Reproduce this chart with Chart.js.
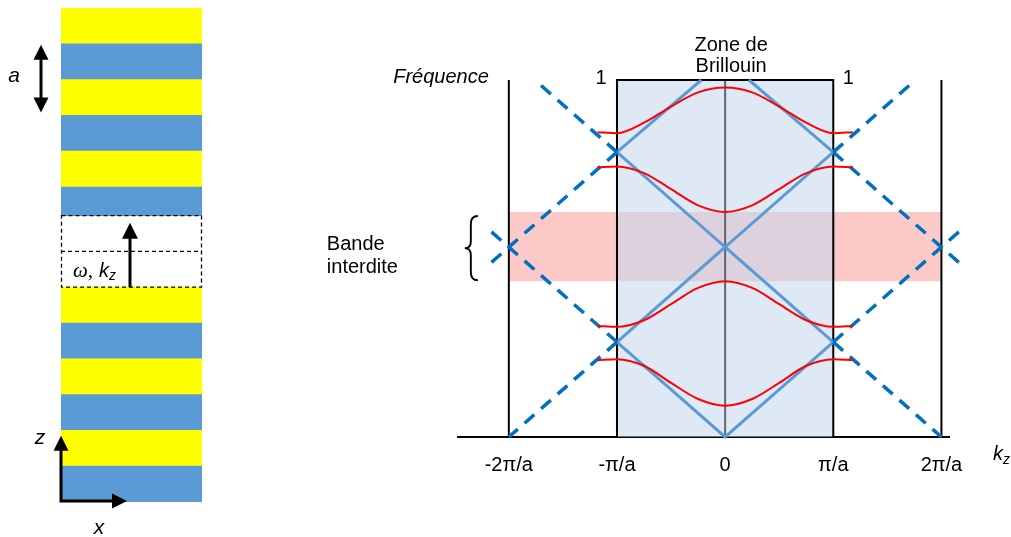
<!DOCTYPE html>
<html><head><meta charset="utf-8">
<script src="https://cdn.jsdelivr.net/npm/chart.js@4.4.0/dist/chart.umd.min.js"></script>
<style>
html,body{margin:0;padding:0;background:#fff;width:1011px;height:537px;overflow:hidden;}
canvas{position:absolute;left:0;top:0;}
</style></head>
<body>
<canvas id="left" width="1011" height="537"></canvas>
<canvas id="right" width="1011" height="537"></canvas>
<script>
// ================= DATA =================
// Left panel: multilayer stack, listed bottom -> top (thickness in layer units)
const layerMaterials = ['B','Y','B','Y','B','Y','gap','B','Y','B','Y','B','Y'];
const layerThickness = [1, 1, 1, 1, 1, 1, 2, 0.8, 1, 1, 1, 1, 1];

// Right panel: band diagram (k in units of pi/a, frequency in units of c*pi/a)
const kTicks = [-2, -1, 0, 1, 2];
const kTickLabels = ['-2π/a', '-π/a', '0', 'π/a', '2π/a'];
const kRange = [-2.47, 2.07];
const freqMax = 3.76;
const gapBand = [1.64, 2.37];          // bande interdite
const zoneEdges = [-1, 1];             // zone de Brillouin
const outerLines = [-2, 2];

// folded light line (solid, inside the zone)
const lightSolid = [
  [[-1, 1], [0, 0], [1, 1]],
  [[-1, 1], [0, 2], [1, 1]],
  [[-1, 3], [0, 2], [1, 3]],
  [[-1, 3], [-0.22, 3.76]],
  [[1, 3], [0.22, 3.76]]
];
// unfolded light lines (dashed, outside the zone)
const lightDashed = [
  [[-1, 1], [-2, 0]],
  [[-1, 1], [-2.18, 2.18]],
  [[-1, 3], [-2.18, 1.82]],
  [[-1, 3], [-1.72, 3.72]],
  [[1, 1], [2, 0]],
  [[1, 1], [2.18, 2.18]],
  [[1, 3], [2.18, 1.82]],
  [[1, 3], [1.72, 3.72]]
];
// photonic bands (red)
const kBand = [-1.18, -1, -0.75, -0.5, -0.25, 0, 0.25, 0.5, 0.75, 1, 1.18];
const band4 = [3.21, 3.20, 3.31, 3.48, 3.63, 3.68, 3.63, 3.48, 3.31, 3.20, 3.21];
const band3 = [2.84, 2.85, 2.78, 2.61, 2.44, 2.37, 2.44, 2.61, 2.78, 2.85, 2.84];
const band2 = [1.17, 1.16, 1.23, 1.40, 1.57, 1.64, 1.57, 1.40, 1.23, 1.16, 1.17];
const band1 = [0.81, 0.82, 0.75, 0.57, 0.40, 0.33, 0.40, 0.57, 0.75, 0.82, 0.81];

// ================= STYLE =================
const FONT = '"Liberation Sans", Arial, sans-serif';
Chart.defaults.font.family = FONT;
Chart.defaults.color = '#000';

function arrowHead(ctx, x, y, dir, len, wid) {
  ctx.beginPath();
  if (dir === 'up') { ctx.moveTo(x, y); ctx.lineTo(x - wid/2, y + len); ctx.lineTo(x + wid/2, y + len); }
  else if (dir === 'down') { ctx.moveTo(x, y); ctx.lineTo(x - wid/2, y - len); ctx.lineTo(x + wid/2, y - len); }
  else { ctx.moveTo(x, y); ctx.lineTo(x - len, y - wid/2); ctx.lineTo(x - len, y + wid/2); }
  ctx.closePath(); ctx.fill();
}

// ================= LEFT CHART =================
const layerBounds = [0];
layerThickness.forEach(t => layerBounds.push(layerBounds[layerBounds.length - 1] + t));
const stackTotal = layerBounds[layerBounds.length - 1];
const gapIndex = layerMaterials.indexOf('gap');

const leftDatasets = layerMaterials.map((m, i) => ({
  data: [[layerBounds[i], layerBounds[i + 1]]],
  backgroundColor: m === 'Y' ? '#FFFF00' : (m === 'B' ? '#5B9BD5' : 'rgba(255,255,255,0)'),
  borderWidth: 0, grouped: false, barPercentage: 1, categoryPercentage: 1
}));

const leftDecor = {
  id: 'leftDecor',
  afterDatasetsDraw(chart) {
    const ctx = chart.ctx, ys = chart.scales.y, a = chart.chartArea;
    ctx.save();
    // dashed cell
    const g0 = ys.getPixelForValue(layerBounds[gapIndex]);
    const g1 = ys.getPixelForValue(layerBounds[gapIndex + 1]);
    const gm = (g0 + g1) / 2;
    ctx.strokeStyle = '#000'; ctx.lineWidth = 1.3; ctx.setLineDash([4, 3]);
    ctx.strokeRect(a.left + 0.5, g1, a.right - a.left - 1, g0 - g1);
    ctx.beginPath(); ctx.moveTo(a.left, gm); ctx.lineTo(a.right, gm); ctx.stroke();
    ctx.setLineDash([]);
    // wave vector arrow
    const cx = (a.left + a.right) / 2 - 1.5;
    const tip = ys.getPixelForValue(layerBounds[gapIndex] + 1.8);
    ctx.fillStyle = '#000'; ctx.lineWidth = 3;
    ctx.beginPath(); ctx.moveTo(cx, g0); ctx.lineTo(cx, tip + 14); ctx.stroke();
    arrowHead(ctx, cx, tip, 'up', 16, 16);
    // omega, kz
    ctx.textBaseline = 'middle'; ctx.textAlign = 'left';
    ctx.font = 'italic 21px "Liberation Serif", serif';
    const ly = (g0 + gm) / 2 + 2;
    ctx.fillText('ω,', a.left + 12, ly);
    ctx.font = 'italic 20px ' + FONT;
    ctx.fillText('k', a.left + 38, ly);
    ctx.font = 'italic 14px ' + FONT;
    ctx.fillText('z', a.left + 48, ly + 5);
    // period arrow "a"
    const p0 = ys.getPixelForValue(layerBounds[10]);
    const p1 = ys.getPixelForValue(layerBounds[12]);
    const ax = a.left - 20;
    ctx.beginPath(); ctx.moveTo(ax, p1 + 12); ctx.lineTo(ax, p0 - 12); ctx.stroke();
    arrowHead(ctx, ax, p1 + 1, 'up', 15, 15);
    arrowHead(ctx, ax, p0 - 3, 'down', 15, 15);
    ctx.font = 'italic 21px ' + FONT; ctx.textAlign = 'center';
    ctx.fillText('a', a.left - 47, (p0 + p1) / 2 - 3);
    // x/z axes
    const ox = a.left, oy = ys.getPixelForValue(0) - 1;
    const zt = ys.getPixelForValue(1.85);
    ctx.beginPath(); ctx.moveTo(ox, oy + 1.5); ctx.lineTo(ox, zt + 12);
    ctx.moveTo(ox - 1.5, oy); ctx.lineTo(ox + 54, oy); ctx.stroke();
    arrowHead(ctx, ox, zt, 'up', 15, 15);
    arrowHead(ctx, ox + 66, oy, 'right', 15, 15);
    ctx.font = 'italic 21px ' + FONT;
    ctx.fillText('z', ox - 21, zt + 2);
    ctx.fillText('x', ox + 38, oy + 27);
    ctx.restore();
  }
};

new Chart(document.getElementById('left'), {
  type: 'bar',
  data: { labels: ['stack'], datasets: leftDatasets },
  options: {
    responsive: false, animation: false, events: [],
    indexAxis: 'x',
    layout: { padding: { left: 61, right: 809, top: 8, bottom: 35 } },
    scales: {
      x: { display: false },
      y: { display: false, min: 0, max: stackTotal, stacked: false }
    },
    plugins: { legend: { display: false }, tooltip: { enabled: false } }
  },
  plugins: [leftDecor]
});

// ================= RIGHT CHART =================
const pts = arr => arr.map(p => ({ x: p[0], y: p[1] }));
const lineDs = (arr, style, order) => Object.assign({
  data: pts(arr), showLine: true, pointRadius: 0, pointHoverRadius: 0,
  fill: false, clip: false, tension: 0, order
}, style);

const rightDatasets = [];
// bande interdite
rightDatasets.push(lineDs([[outerLines[0], gapBand[1]], [outerLines[1], gapBand[1]]],
  { borderWidth: 0, borderColor: 'rgba(0,0,0,0)', backgroundColor: 'rgb(252,201,201)', fill: { value: gapBand[0] } }, 100));
// zone de Brillouin
rightDatasets.push(lineDs([[zoneEdges[0], freqMax], [zoneEdges[1], freqMax]],
  { borderWidth: 0, borderColor: 'rgba(0,0,0,0)', backgroundColor: 'rgba(195,215,237,0.55)', fill: 'origin' }, 90));
// outer vertical lines
outerLines.forEach(k => rightDatasets.push(lineDs([[k, 0], [k, freqMax]], { borderColor: '#000', borderWidth: 2 }, 80)));
// zone outline
rightDatasets.push(lineDs([[zoneEdges[0], 0], [zoneEdges[0], freqMax], [zoneEdges[1], freqMax], [zoneEdges[1], 0]],
  { borderColor: '#000', borderWidth: 2 }, 80));
// centre line
rightDatasets.push(lineDs([[0, 0], [0, freqMax]], { borderColor: '#5f6670', borderWidth: 2 }, 80));
// folded light line
lightSolid.forEach(s => rightDatasets.push(lineDs(s, { borderColor: '#5B9BD5', borderWidth: 3 }, 70)));
// unfolded light line
lightDashed.forEach(s => rightDatasets.push(lineDs(s, { borderColor: '#0070C0', borderWidth: 3.5, borderDash: [13, 9], borderCapStyle: 'butt' }, 60)));
// bands
[band1, band2, band3, band4].forEach(b => rightDatasets.push(lineDs(kBand.map((k, i) => [k, b[i]]),
  { borderColor: '#FF0000', borderWidth: 2, cubicInterpolationMode: 'monotone' }, 50)));

const rightDecor = {
  id: 'rightDecor',
  afterDraw(chart) {
    const ctx = chart.ctx, xs = chart.scales.x, ys = chart.scales.y, a = chart.chartArea;
    ctx.save();
    ctx.fillStyle = '#000'; ctx.textBaseline = 'middle';
    ctx.font = 'italic 20px ' + FONT; ctx.textAlign = 'right';
    ctx.fillText('Fréquence', xs.getPixelForValue(outerLines[0]) - 20, a.top - 3);
    ctx.font = '20px ' + FONT; ctx.textAlign = 'center';
    ctx.fillText('1', xs.getPixelForValue(zoneEdges[0]) - 16, a.top - 2);
    ctx.fillText('1', xs.getPixelForValue(zoneEdges[1]) + 15, a.top - 2);
    const zc = xs.getPixelForValue(0) + 6;
    ctx.fillText('Zone de', zc, a.top - 35);
    ctx.fillText('Brillouin', zc, a.top - 14);
    const gTop = ys.getPixelForValue(gapBand[1]), gBot = ys.getPixelForValue(gapBand[0]);
    const gMid = (gTop + gBot) / 2;
    ctx.textAlign = 'left';
    ctx.fillText('Bande', xs.getPixelForValue(outerLines[0]) - 182, gMid - 2);
    ctx.fillText('interdite', xs.getPixelForValue(outerLines[0]) - 182, gMid + 21);
    // k_z
    ctx.font = 'italic 20px ' + FONT;
    ctx.fillText('k', a.right + 44, a.bottom + 17);
    ctx.font = 'italic 14px ' + FONT;
    ctx.fillText('z', a.right + 54, a.bottom + 23);
    // brace
    const bx = xs.getPixelForValue(outerLines[0]) - 38;
    const t = gTop + 4, b = gBot - 1, m = (t + b) / 2;
    ctx.strokeStyle = '#000'; ctx.lineWidth = 1.9;
    ctx.beginPath();
    ctx.moveTo(bx + 7, t);
    ctx.quadraticCurveTo(bx, t, bx, t + 8);
    ctx.lineTo(bx, m - 7);
    ctx.quadraticCurveTo(bx, m, bx - 6, m);
    ctx.quadraticCurveTo(bx, m, bx, m + 7);
    ctx.lineTo(bx, b - 8);
    ctx.quadraticCurveTo(bx, b, bx + 7, b);
    ctx.stroke();
    ctx.restore();
  }
};

new Chart(document.getElementById('right'), {
  type: 'scatter',
  data: { datasets: rightDatasets },
  options: {
    responsive: false, animation: false, events: [],
    layout: { padding: { left: 458, right: 62, top: 80, bottom: 55 } },
    scales: {
      x: {
        type: 'linear', min: kRange[0], max: kRange[1],
        afterBuildTicks: s => { s.ticks = kTicks.map(v => ({ value: v })); },
        afterFit: s => { s.height = 45; },
        grid: { display: false, drawTicks: false },
        border: { display: true, color: '#000', width: 2 },
        ticks: { autoSkip: false, maxRotation: 0, padding: 16, color: '#000',
          font: { size: 20, family: FONT },
          callback: v => kTickLabels[kTicks.indexOf(v)] }
      },
      y: { display: false, min: 0, max: freqMax }
    },
    plugins: { legend: { display: false }, tooltip: { enabled: false } }
  },
  plugins: [rightDecor]
});
</script>
</body></html>
